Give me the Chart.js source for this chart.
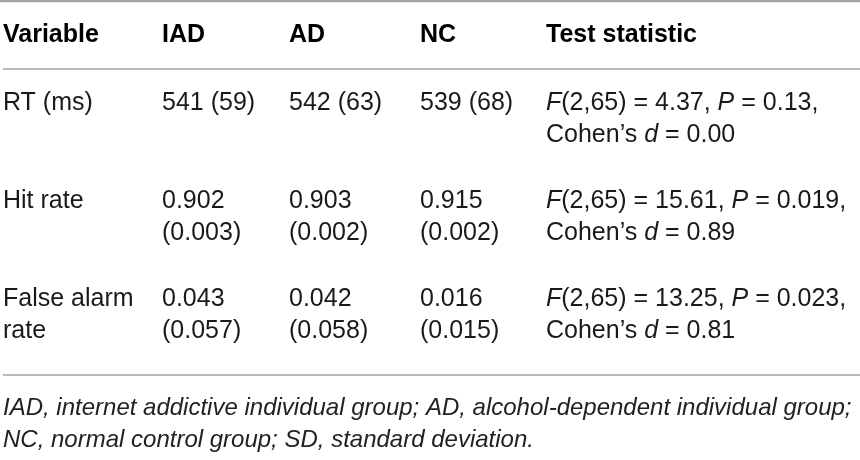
<!DOCTYPE html>
<html>
<head>
<meta charset="utf-8">
<script src="https://cdn.jsdelivr.net/npm/chart.js@4.4.1/dist/chart.umd.min.js"></script>
<style>
  html, body { margin: 0; padding: 0; background: #fff; }
  #wrap { width: 860px; height: 460px; }
</style>
</head>
<body>
<div id="wrap"><canvas id="tableChart"></canvas></div>
<script>
// table content
const columns = ['Variable', 'IAD', 'AD', 'NC', 'Test statistic'];
const variables = ['RT (ms)', 'Hit rate', 'False alarm rate'];
const decimals = [0, 3, 3];
const iadMean = [541, 0.902, 0.043];
const iadSD = [59, 0.003, 0.057];
const adMean = [542, 0.903, 0.042];
const adSD = [63, 0.002, 0.058];
const ncMean = [539, 0.915, 0.016];
const ncSD = [68, 0.002, 0.015];
const dfBetween = [2, 2, 2];
const dfWithin = [65, 65, 65];
const fValues = [4.37, 15.61, 13.25];
const pValues = [0.13, 0.019, 0.023];
const pDecimals = [2, 3, 3];
const cohensD = [0.00, 0.89, 0.81];
const footnotes = [
  ['IAD', 'internet addictive individual group'],
  ['AD', 'alcohol-dependent individual group'],
  ['NC', 'normal control group'],
  ['SD', 'standard deviation']
];

// layout (scale units == pixels, axes hidden)
const FONT = '"Liberation Sans", Arial, sans-serif';
const SIZE = 25;
const NOTE_SIZE = 24;
const colLeft = [3, 162, 289, 420, 546];
const colRight = [155, 282, 413, 540, 860];
const headerBase = 42;
const firstRowBase = 110;
const lineH = 32;
const rowGap = 34;
const rules = { top: 1, header: 69, bottom: 375 };
const noteBase = 415;

function font(size, bold, italic) {
  return (italic ? 'italic ' : '') + (bold ? 'bold ' : '') + size + 'px ' + FONT;
}

function runsWidth(ctx, runs, size) {
  let w = 0;
  runs.forEach(r => { ctx.font = font(size, false, r.i); w += ctx.measureText(r.t).width; });
  return w;
}

function drawRuns(ctx, runs, px, py, size) {
  runs.forEach(r => {
    ctx.font = font(size, false, r.i);
    ctx.fillText(r.t, px, py);
    px += ctx.measureText(r.t).width;
  });
}

// greedy wrap of phrases (arrays of runs) into lines
function wrap(ctx, phrases, maxW, size) {
  const lines = [];
  let cur = [];
  phrases.forEach(p => {
    const trial = cur.length ? cur.concat([{ t: ' ' }], p) : p.slice();
    if (cur.length && runsWidth(ctx, trial, size) > maxW) {
      lines.push(cur);
      cur = p.slice();
    } else {
      cur = trial;
    }
  });
  if (cur.length) lines.push(cur);
  return lines;
}

function words(text) {
  return text.split(' ').map(w => [{ t: w }]);
}

function rowCells(k) {
  const d = decimals[k];
  const cell = (m, s) => words(m.toFixed(d) + ' (' + s.toFixed(d) + ')');
  return [
    words(variables[k]),
    cell(iadMean[k], iadSD[k]),
    cell(adMean[k], adSD[k]),
    cell(ncMean[k], ncSD[k]),
    [
      [{ t: 'F', i: true }, { t: '(' + dfBetween[k] + ',' + dfWithin[k] + ') = ' + fValues[k].toFixed(2) + ',' }],
      [{ t: 'P', i: true }, { t: ' = ' + pValues[k].toFixed(pDecimals[k]) + ',' }],
      [{ t: 'Cohen\u2019s ' }, { t: 'd', i: true }, { t: ' = ' + cohensD[k].toFixed(2) }]
    ]
  ];
}

const tablePlugin = {
  id: 'tableText',
  afterDraw(chart) {
    const { ctx, scales: { x, y } } = chart;
    ctx.save();
    ctx.textBaseline = 'alphabetic';
    ctx.textAlign = 'left';

    // rules
    ctx.strokeStyle = '#a3a3a3';
    [[rules.top, 0, 2.5], [rules.header, 3, 1.5], [rules.bottom, 3, 1.5]].forEach(([ry, rx, lw]) => {
      ctx.lineWidth = lw;
      ctx.beginPath();
      ctx.moveTo(x.getPixelForValue(rx), y.getPixelForValue(ry));
      ctx.lineTo(x.getPixelForValue(860), y.getPixelForValue(ry));
      ctx.stroke();
    });

    // header
    ctx.fillStyle = '#000';
    ctx.font = font(SIZE, true, false);
    columns.forEach((c, j) => ctx.fillText(c, x.getPixelForValue(colLeft[j]), y.getPixelForValue(headerBase)));

    // body rows
    ctx.fillStyle = '#1a1a1a';
    let base = firstRowBase;
    variables.forEach((v, k) => {
      let maxLines = 1;
      rowCells(k).forEach((phrases, j) => {
        const w = x.getPixelForValue(colRight[j]) - x.getPixelForValue(colLeft[j]);
        const lines = wrap(ctx, phrases, w, SIZE);
        maxLines = Math.max(maxLines, lines.length);
        lines.forEach((ln, li) => drawRuns(ctx, ln, x.getPixelForValue(colLeft[j]), y.getPixelForValue(base + li * lineH), SIZE));
      });
      base += maxLines * lineH + rowGap;
    });

    // footnote
    ctx.fillStyle = '#222';
    let noteWords = [];
    footnotes.forEach(([ab, desc], n) => {
      noteWords = noteWords.concat(words(ab + ', ' + desc + (n < footnotes.length - 1 ? ';' : '.')));
    });
    noteWords = noteWords.map(p => p.map(r => ({ t: r.t, i: true })));
    const noteLines = wrap(ctx, noteWords, x.getPixelForValue(858) - x.getPixelForValue(3), NOTE_SIZE);
    noteLines.forEach((ln, li) => drawRuns(ctx, ln, x.getPixelForValue(3), y.getPixelForValue(noteBase + li * lineH), NOTE_SIZE));
    ctx.restore();
  }
};

new Chart(document.getElementById('tableChart'), {
  type: 'scatter',
  data: { datasets: [{ data: [], pointRadius: 0 }] },
  options: {
    responsive: true,
    maintainAspectRatio: false,
    animation: false,
    layout: { padding: 0 },
    plugins: { legend: { display: false }, tooltip: { enabled: false } },
    scales: {
      x: { type: 'linear', min: 0, max: 860, display: false },
      y: { type: 'linear', min: 0, max: 460, reverse: true, display: false }
    }
  },
  plugins: [tablePlugin]
});
</script>
</body>
</html>
